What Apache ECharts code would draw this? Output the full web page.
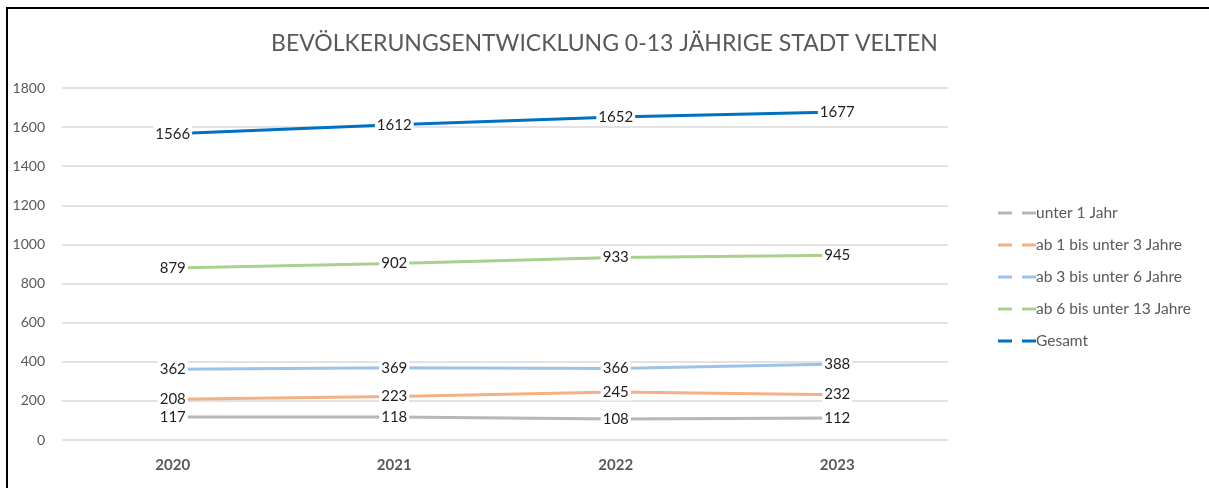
<!DOCTYPE html>
<html>
<head>
<meta charset="utf-8">
<script src="https://cdn.jsdelivr.net/npm/echarts@6/dist/echarts.min.js"></script>
<style>
  html, body { margin: 0; padding: 0; background: #fff; }
  #wrap { position: relative; width: 1209px; height: 488px; overflow: hidden; }
  #myChart { width: 1209px; height: 488px; }
  #frame { position: absolute; left: 6px; top: 7px; width: 1300px; height: 600px;
           border-left: 2px solid #000; border-top: 2px solid #000; pointer-events: none; }
</style>
</head>
<body>
<div id="wrap">
  <div id="myChart"></div>
  <div id="frame"></div>
</div>
<script>
  // Jahre
  var years = ['2020', '2021', '2022', '2023'];
  // Altersgruppen
  var unter1 = [117, 118, 108, 112];
  var ab1bis3 = [208, 223, 245, 232];
  var ab3bis6 = [362, 369, 366, 388];
  var ab6bis13 = [879, 902, 933, 945];
  var gesamt = [1566, 1612, 1652, 1677];
  var yTicks = [0, 200, 400, 600, 800, 1000, 1200, 1400, 1600, 1800];

  var font = 'Lato, "Liberation Sans", sans-serif';

  // Legendensymbol: zwei Striche wie in Excel
  var dashIcon = 'path://M0,0H14V3H0Z M24,0H38V3H24Z';

  function makeSeries(name, data, color) {
    return {
      name: name,
      type: 'line',
      data: data,
      symbol: 'circle',
      symbolSize: 1,
      itemStyle: { color: color },
      lineStyle: { color: color, width: 3 },
      label: {
        show: true,
        position: 'inside',
        color: '#1f1f1f',
        fontSize: 15,
        fontFamily: font,
        backgroundColor: '#fff',
        padding: [1, 2]
      },
      emphasis: { disabled: true },
      animation: false
    };
  }

  var myChart = echarts.init(document.getElementById('myChart'));
  var option = {
    backgroundColor: '#fff',
    title: {
      text: 'BEVÖLKERUNGSENTWICKLUNG 0-13 JÄHRIGE STADT VELTEN',
      left: 'center',
      top: 27,
      textStyle: { color: '#595959', fontSize: 23, fontWeight: 'normal', fontFamily: font }
    },
    grid: { left: 62, right: 261, top: 88, bottom: 48 },
    legend: {
      orient: 'vertical',
      left: 993,
      top: 198,
      itemWidth: 38,
      itemHeight: 3,
      itemGap: 12,
      icon: dashIcon,
      textStyle: { color: '#595959', fontSize: 15.5, fontFamily: font, lineHeight: 20, padding: [0, 0, 0, -5] },
      data: ['unter 1 Jahr', 'ab 1 bis unter 3 Jahre', 'ab 3 bis unter 6 Jahre', 'ab 6 bis unter 13 Jahre', 'Gesamt']
    },
    xAxis: {
      type: 'category',
      data: years,
      boundaryGap: true,
      axisLine: { show: false },
      axisTick: { show: false },
      axisLabel: { color: '#595959', fontSize: 15, fontWeight: 'bold', fontFamily: font, margin: 18 }
    },
    yAxis: {
      type: 'value',
      min: yTicks[0],
      max: yTicks[yTicks.length - 1],
      interval: 200,
      axisLine: { show: false },
      axisTick: { show: false },
      axisLabel: {
        color: '#595959', fontSize: 14, fontFamily: font, margin: 17,
        formatter: function (v) { return String(v); }
      },
      splitLine: { lineStyle: { color: '#d9d9d9', width: 1.5 } }
    },
    series: [
      makeSeries('unter 1 Jahr', unter1, '#b7b7b7'),
      makeSeries('ab 1 bis unter 3 Jahre', ab1bis3, '#f4b183'),
      makeSeries('ab 3 bis unter 6 Jahre', ab3bis6, '#9dc3e6'),
      makeSeries('ab 6 bis unter 13 Jahre', ab6bis13, '#a9d18e'),
      makeSeries('Gesamt', gesamt, '#0070c0')
    ]
  };
  myChart.setOption(option);
</script>
</body>
</html>
